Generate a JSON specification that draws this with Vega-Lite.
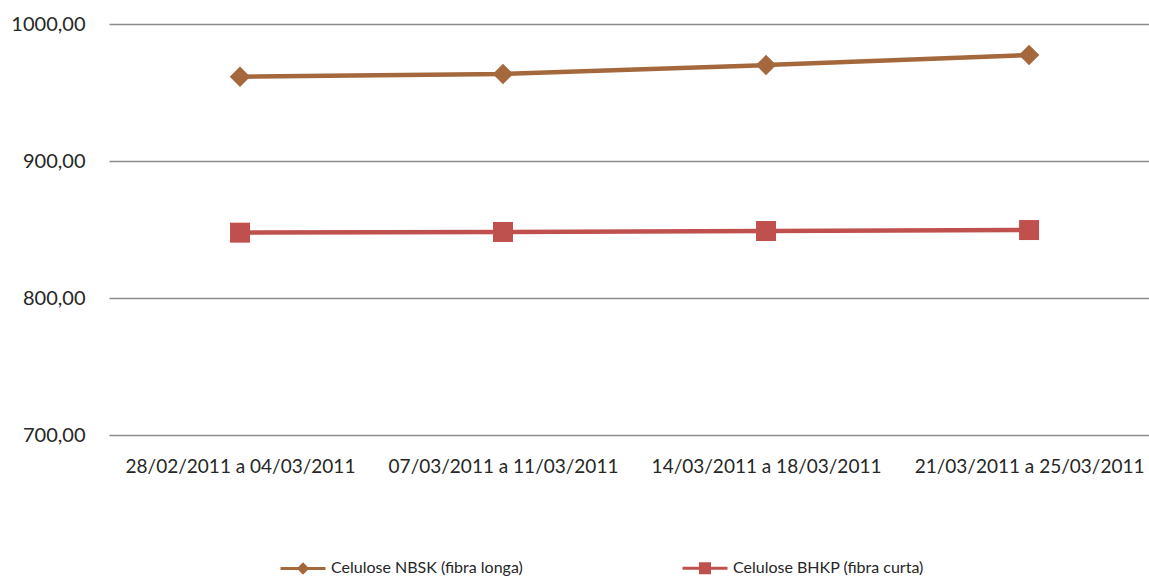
{
  "$schema": "https://vega.github.io/schema/vega-lite/v6.json",
  "autosize": "none",
  "width": 1040,
  "height": 411,
  "padding": {"left": 109, "top": 24, "right": 0, "bottom": 149},
  "background": "white",
  "config": {
    "view": {"stroke": null},
    "font": "Lato",
    "axis": {"labelFont": "Lato", "labelFontSize": 20, "labelColor": "#262626", "labelLimit": 0}
  },
  "data": {
    "values": [
      {"semana": "28/02/2011 a 04/03/2011", "serie": "Celulose NBSK (fibra longa)", "valor": 961.5},
      {"semana": "07/03/2011 a 11/03/2011", "serie": "Celulose NBSK (fibra longa)", "valor": 963.5},
      {"semana": "14/03/2011 a 18/03/2011", "serie": "Celulose NBSK (fibra longa)", "valor": 970.0},
      {"semana": "21/03/2011 a 25/03/2011", "serie": "Celulose NBSK (fibra longa)", "valor": 977.4},
      {"semana": "28/02/2011 a 04/03/2011", "serie": "Celulose BHKP (fibra curta)", "valor": 847.7},
      {"semana": "07/03/2011 a 11/03/2011", "serie": "Celulose BHKP (fibra curta)", "valor": 848.2},
      {"semana": "14/03/2011 a 18/03/2011", "serie": "Celulose BHKP (fibra curta)", "valor": 848.9},
      {"semana": "21/03/2011 a 25/03/2011", "serie": "Celulose BHKP (fibra curta)", "valor": 849.6}
    ]
  },
  "encoding": {
    "x": {
      "field": "semana", "type": "nominal", "sort": null, "title": null,
      "scale": {"type": "point", "padding": 0.477, "align": 0.522},
      "axis": {"domain": false, "ticks": false, "grid": false, "labelAngle": 0, "labelPadding": 22, "labelLimit": 0, "labelFontSize": 19}
    },
    "y": {
      "field": "valor", "type": "quantitative", "title": null,
      "scale": {"domain": [700, 1000], "nice": false, "zero": false},
      "axis": {
        "values": [700, 800, 900, 1000], "domain": false, "ticks": false,
        "grid": true, "gridColor": "#8c8c8c", "gridWidth": 1.5,
        "labelPadding": 24,
        "labelExpr": "replace(format(datum.value, '.2f'), '.', ',')"
      }
    },
    "color": {
      "field": "serie", "type": "nominal", "title": null,
      "scale": {
        "domain": ["Celulose NBSK (fibra longa)", "Celulose BHKP (fibra curta)"],
        "range": ["#A5683C", "#C0504D"]
      },
      "legend": {
        "orient": "none", "legendX": 170, "legendY": 520,
        "direction": "horizontal", "columns": 2, "columnPadding": 153,
        "symbolSize": 2025, "symbolStrokeWidth": 3,
        "labelFont": "Lato", "labelFontSize": 16, "labelColor": "#262626", "labelOffset": 4, "labelLimit": 400,
        "encode": {
          "symbols": {
            "update": {
              "shape": {"signal": "datum.value === 'Celulose NBSK (fibra longa)' ? 'M-1,0H1M0,-0.18L0.18,0L0,0.18L-0.18,0Z' : 'M-1,0H1M-0.2,-0.2H0.2V0.2H-0.2Z'"},
              "fill": {"scale": "color", "field": "value"},
              "stroke": {"scale": "color", "field": "value"},
              "strokeWidth": {"value": 3},
              "opacity": {"value": 1},
              "fillOpacity": {"value": 1}
            }
          }
        }
      }
    }
  },
  "layer": [
    {"mark": {"type": "line", "strokeWidth": 4.5}},
    {
      "transform": [{"filter": "datum.serie === 'Celulose NBSK (fibra longa)'"}],
      "mark": {"type": "point", "shape": "diamond", "filled": true, "opacity": 1, "size": 420}
    },
    {
      "transform": [{"filter": "datum.serie === 'Celulose BHKP (fibra curta)'"}],
      "mark": {"type": "point", "shape": "square", "filled": true, "opacity": 1, "size": 400}
    }
  ]
}
